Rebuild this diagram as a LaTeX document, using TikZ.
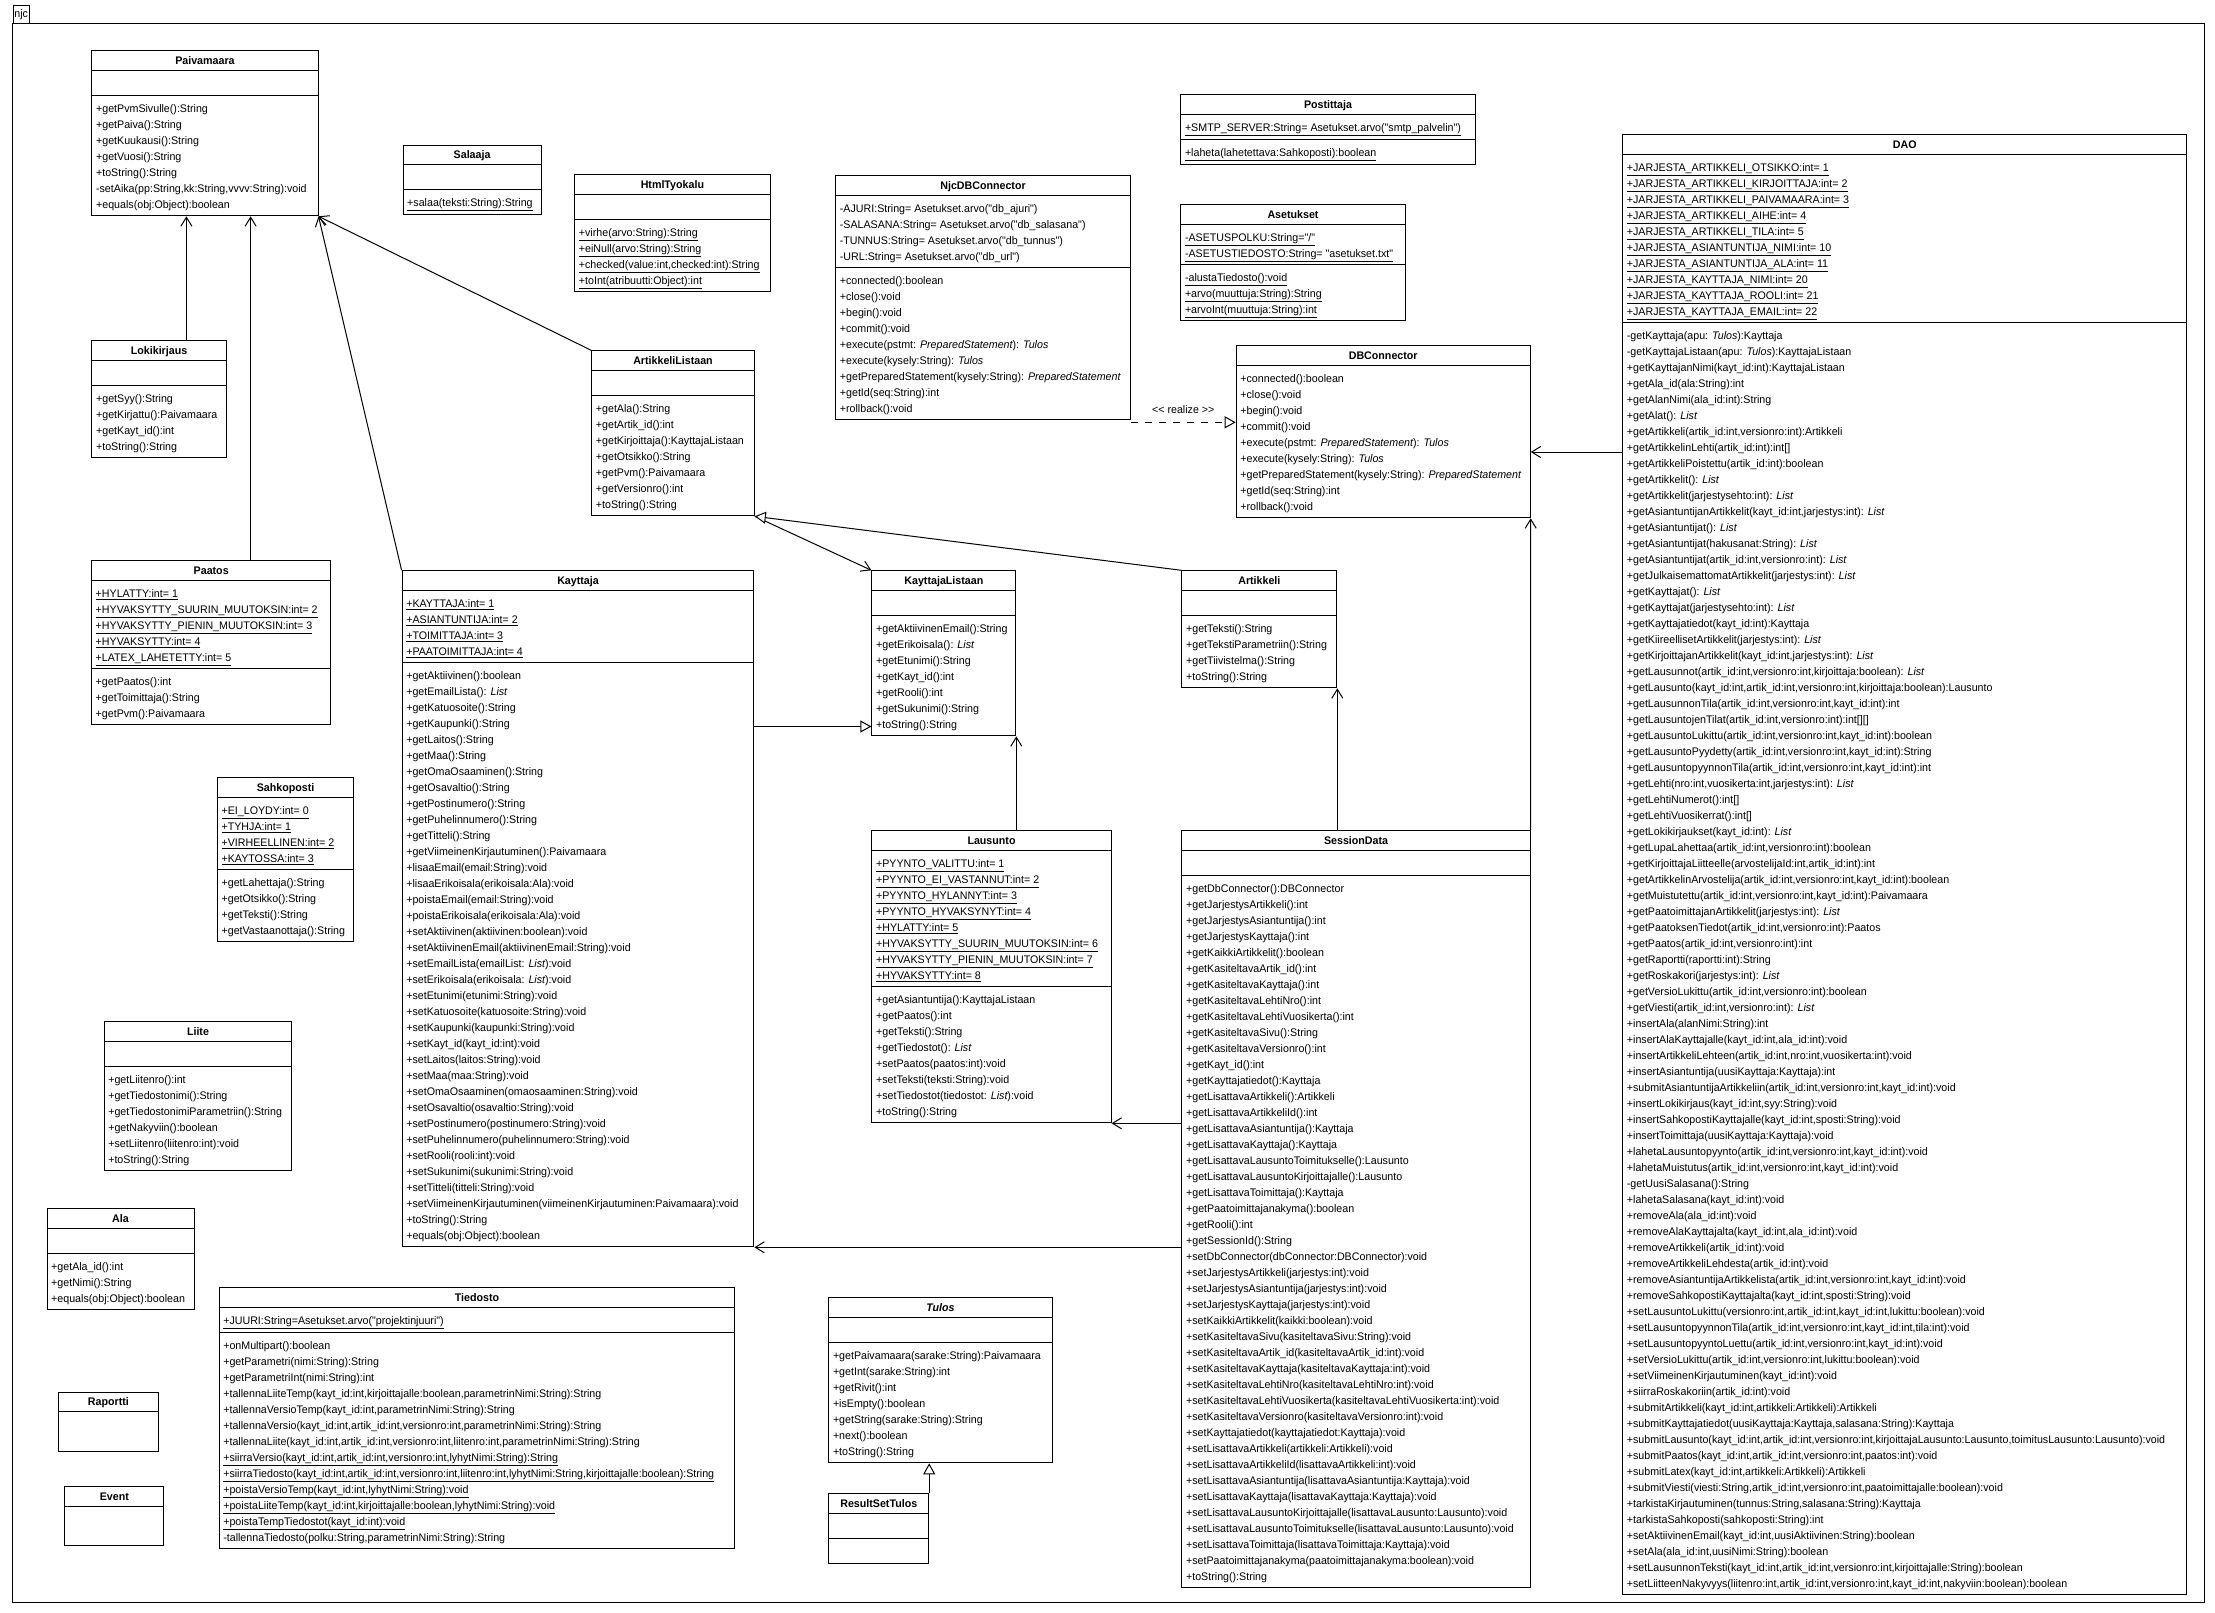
\documentclass[tikz,border=0pt]{standalone}
\usepackage{fontspec}
\newfontfamily\umlf{Liberation Sans}[FakeStretch=0.97]
\usetikzlibrary{arrows.meta}
\newcommand{\umlfont}{\umlf\fontsize{11}{13}\selectfont}
\newcommand{\umlI}[1]{{\itshape #1}}
\newcommand{\umlcls}[5]{\node[clsbox,minimum width=#4pt,minimum height=#5pt,anchor=north west] (#1) at (#2,#3) {};}
\newcommand{\umlttl}[2]{\node[ttl] (#1-t) at ([yshift=-14pt]#1.north) {#2};}
\newcommand{\umlsep}[2]{\draw[line width=1pt] ([yshift=-#2pt]#1.north west) -- ([yshift=-#2pt]#1.north east);}
\newcommand{\umlrows}[4]{\foreach \rr [count=\ii] in {#4} {\pgfmathsetmacro\yy{#3+17+16*(\ii-1)}\node[rowtxt] (#1-#2\ii) at ([xshift=4.5pt,yshift=-\yy pt]#1.north west) {\rr};}}
\tikzset{
  clsbox/.style={draw, line width=1pt, inner sep=0pt, fill=white},
  rowtxt/.style={anchor=base west, inner sep=0pt, font=\umlfont},
  ttl/.style={anchor=base, inner sep=0pt, font=\umlfont\bfseries},
  assoc/.style={line width=1pt, -{Straight Barb[length=9pt,width=11pt,line width=1pt]}},
  gen/.style={line width=1pt, -{Triangle[length=11pt,width=12pt,fill=white,line width=1pt]}},
  realz/.style={gen, dash pattern=on 7pt off 7pt}
}
\begin{document}
\begin{tikzpicture}[x=1pt,y=-1pt,font=\umlfont]
\useasboundingbox[fill=white] (0,0) rectangle (2215,1613);
% frame
\draw[line width=1pt] (12.5,24) rectangle (2204,1602.3);
\node[draw,line width=1pt,minimum width=16.5pt,minimum height=18pt,anchor=south west,inner sep=0pt] (tab) at (12.5,24) {njc};

% ---------- Paivamaara
\umlcls{pai}{91.4}{50.3}{226.1}{165}
\umlttl{pai}{Paivamaara}
\umlsep{pai}{20}\umlsep{pai}{45}
\umlrows{pai}{m}{45}{
 {+getPvmSivulle():String},
 {+getPaiva():String},
 {+getKuukausi():String},
 {+getVuosi():String},
 {+toString():String},
 {-setAika(pp:String,kk:String,vvvv:String):void},
 {+equals(obj:Object):boolean}}

% ---------- Salaaja
\umlcls{sal}{402.5}{145}{138.2}{69}
\umlttl{sal}{Salaaja}
\umlsep{sal}{20}\umlsep{sal}{45}
\umlrows{sal}{m}{45}{{\underline{+salaa(teksti:String):String}}}

% ---------- HtmlTyokalu
\umlcls{htm}{574.2}{174.3}{195.4}{117}
\umlttl{htm}{HtmlTyokalu}
\umlsep{htm}{20}\umlsep{htm}{45}
\umlrows{htm}{m}{45}{
 {\underline{+virhe(arvo:String):String}},
 {\underline{+eiNull(arvo:String):String}},
 {\underline{+checked(value:int,checked:int):String}},
 {\underline{+toInt(atribuutti:Object):int}}}

% ---------- NjcDBConnector
\umlcls{njc}{835.2}{175.3}{294.6}{244}
\umlttl{njc}{NjcDBConnector}
\umlsep{njc}{20}\umlsep{njc}{92}
\umlrows{njc}{a}{20}{
 {-AJURI:String= Asetukset.arvo("db\_ajuri")},
 {-SALASANA:String= Asetukset.arvo("db\_salasana")},
 {-TUNNUS:String= Asetukset.arvo("db\_tunnus")},
 {-URL:String= Asetukset.arvo("db\_url")}}
\umlrows{njc}{m}{92}{
 {+connected():boolean},
 {+close():void},
 {+begin():void},
 {+commit():void},
 {+execute(pstmt: \umlI{PreparedStatement}): \umlI{Tulos}},
 {+execute(kysely:String): \umlI{Tulos}},
 {+getPreparedStatement(kysely:String): \umlI{PreparedStatement}},
 {+getId(seq:String):int},
 {+rollback():void}}

% ---------- Postittaja
\umlcls{pos}{1180.3}{94.3}{294.4}{70}
\umlttl{pos}{Postittaja}
\umlsep{pos}{20}\umlsep{pos}{45}
\umlrows{pos}{a}{20}{{\underline{+SMTP\_SERVER:String= Asetukset.arvo("smtp\_palvelin")}}}
\umlrows{pos}{m}{45}{{\underline{+laheta(lahetettava:Sahkoposti):boolean}}}

% ---------- Asetukset
\umlcls{ase}{1180.3}{204.3}{224.4}{116}
\umlttl{ase}{Asetukset}
\umlsep{ase}{20}\umlsep{ase}{60}
\umlrows{ase}{a}{20}{
 {\underline{-ASETUSPOLKU:String="/"}},
 {\underline{-ASETUSTIEDOSTO:String= "asetukset.txt"}}}
\umlrows{ase}{m}{60}{
 {\underline{-alustaTiedosto():void}},
 {\underline{+arvo(muuttuja:String):String}},
 {\underline{+arvoInt(muuttuja:String):int}}}

% ---------- DBConnector
\umlcls{dbc}{1235.7}{345.3}{294}{172}
\umlttl{dbc}{DBConnector}
\umlsep{dbc}{20}
\umlrows{dbc}{m}{20}{
 {+connected():boolean},
 {+close():void},
 {+begin():void},
 {+commit():void},
 {+execute(pstmt: \umlI{PreparedStatement}): \umlI{Tulos}},
 {+execute(kysely:String): \umlI{Tulos}},
 {+getPreparedStatement(kysely:String): \umlI{PreparedStatement}},
 {+getId(seq:String):int},
 {+rollback():void}}

% ---------- DAO
\umlcls{dao}{1622.2}{134.3}{564.1}{1460}
\umlttl{dao}{DAO}
\umlsep{dao}{20}\umlsep{dao}{188}
\umlrows{dao}{a}{20}{
 {\underline{+JARJESTA\_ARTIKKELI\_OTSIKKO:int= 1}},
 {\underline{+JARJESTA\_ARTIKKELI\_KIRJOITTAJA:int= 2}},
 {\underline{+JARJESTA\_ARTIKKELI\_PAIVAMAARA:int= 3}},
 {\underline{+JARJESTA\_ARTIKKELI\_AIHE:int= 4}},
 {\underline{+JARJESTA\_ARTIKKELI\_TILA:int= 5}},
 {\underline{+JARJESTA\_ASIANTUNTIJA\_NIMI:int= 10}},
 {\underline{+JARJESTA\_ASIANTUNTIJA\_ALA:int= 11}},
 {\underline{+JARJESTA\_KAYTTAJA\_NIMI:int= 20}},
 {\underline{+JARJESTA\_KAYTTAJA\_ROOLI:int= 21}},
 {\underline{+JARJESTA\_KAYTTAJA\_EMAIL:int= 22}}}
\umlrows{dao}{m}{188}{
 {-getKayttaja(apu: \umlI{Tulos}):Kayttaja},
 {-getKayttajaListaan(apu: \umlI{Tulos}):KayttajaListaan},
 {+getKayttajanNimi(kayt\_id:int):KayttajaListaan},
 {+getAla\_id(ala:String):int},
 {+getAlanNimi(ala\_id:int):String},
 {+getAlat(): \umlI{List}},
 {+getArtikkeli(artik\_id:int,versionro:int):Artikkeli},
 {+getArtikkelinLehti(artik\_id:int):int[]},
 {+getArtikkeliPoistettu(artik\_id:int):boolean},
 {+getArtikkelit(): \umlI{List}},
 {+getArtikkelit(jarjestysehto:int): \umlI{List}},
 {+getAsiantuntijanArtikkelit(kayt\_id:int,jarjestys:int): \umlI{List}},
 {+getAsiantuntijat(): \umlI{List}},
 {+getAsiantuntijat(hakusanat:String): \umlI{List}},
 {+getAsiantuntijat(artik\_id:int,versionro:int): \umlI{List}},
 {+getJulkaisemattomatArtikkelit(jarjestys:int): \umlI{List}},
 {+getKayttajat(): \umlI{List}},
 {+getKayttajat(jarjestysehto:int): \umlI{List}},
 {+getKayttajatiedot(kayt\_id:int):Kayttaja},
 {+getKiireellisetArtikkelit(jarjestys:int): \umlI{List}},
 {+getKirjoittajanArtikkelit(kayt\_id:int,jarjestys:int): \umlI{List}},
 {+getLausunnot(artik\_id:int,versionro:int,kirjoittaja:boolean): \umlI{List}},
 {+getLausunto(kayt\_id:int,artik\_id:int,versionro:int,kirjoittaja:boolean):Lausunto},
 {+getLausunnonTila(artik\_id:int,versionro:int,kayt\_id:int):int},
 {+getLausuntojenTilat(artik\_id:int,versionro:int):int[][]},
 {+getLausuntoLukittu(artik\_id:int,versionro:int,kayt\_id:int):boolean},
 {+getLausuntoPyydetty(artik\_id:int,versionro:int,kayt\_id:int):String},
 {+getLausuntopyynnonTila(artik\_id:int,versionro:int,kayt\_id:int):int},
 {+getLehti(nro:int,vuosikerta:int,jarjestys:int): \umlI{List}},
 {+getLehtiNumerot():int[]},
 {+getLehtiVuosikerrat():int[]},
 {+getLokikirjaukset(kayt\_id:int): \umlI{List}},
 {+getLupaLahettaa(artik\_id:int,versionro:int):boolean},
 {+getKirjoittajaLiitteelle(arvostelijaId:int,artik\_id:int):int},
 {+getArtikkelinArvostelija(artik\_id:int,versionro:int,kayt\_id:int):boolean},
 {+getMuistutettu(artik\_id:int,versionro:int,kayt\_id:int):Paivamaara},
 {+getPaatoimittajanArtikkelit(jarjestys:int): \umlI{List}},
 {+getPaatoksenTiedot(artik\_id:int,versionro:int):Paatos},
 {+getPaatos(artik\_id:int,versionro:int):int},
 {+getRaportti(raportti:int):String},
 {+getRoskakori(jarjestys:int): \umlI{List}},
 {+getVersioLukittu(artik\_id:int,versionro:int):boolean},
 {+getViesti(artik\_id:int,versionro:int): \umlI{List}},
 {+insertAla(alanNimi:String):int},
 {+insertAlaKayttajalle(kayt\_id:int,ala\_id:int):void},
 {+insertArtikkeliLehteen(artik\_id:int,nro:int,vuosikerta:int):void},
 {+insertAsiantuntija(uusiKayttaja:Kayttaja):int},
 {+submitAsiantuntijaArtikkeliin(artik\_id:int,versionro:int,kayt\_id:int):void},
 {+insertLokikirjaus(kayt\_id:int,syy:String):void},
 {+insertSahkopostiKayttajalle(kayt\_id:int,sposti:String):void},
 {+insertToimittaja(uusiKayttaja:Kayttaja):void},
 {+lahetaLausuntopyynto(artik\_id:int,versionro:int,kayt\_id:int):void},
 {+lahetaMuistutus(artik\_id:int,versionro:int,kayt\_id:int):void},
 {-getUusiSalasana():String},
 {+lahetaSalasana(kayt\_id:int):void},
 {+removeAla(ala\_id:int):void},
 {+removeAlaKayttajalta(kayt\_id:int,ala\_id:int):void},
 {+removeArtikkeli(artik\_id:int):void},
 {+removeArtikkeliLehdesta(artik\_id:int):void},
 {+removeAsiantuntijaArtikkelista(artik\_id:int,versionro:int,kayt\_id:int):void},
 {+removeSahkopostiKayttajalta(kayt\_id:int,sposti:String):void},
 {+setLausuntoLukittu(versionro:int,artik\_id:int,kayt\_id:int,lukittu:boolean):void},
 {+setLausuntopyynnonTila(artik\_id:int,versionro:int,kayt\_id:int,tila:int):void},
 {+setLausuntopyyntoLuettu(artik\_id:int,versionro:int,kayt\_id:int):void},
 {+setVersioLukittu(artik\_id:int,versionro:int,lukittu:boolean):void},
 {+setViimeinenKirjautuminen(kayt\_id:int):void},
 {+siirraRoskakoriin(artik\_id:int):void},
 {+submitArtikkeli(kayt\_id:int,artikkeli:Artikkeli):Artikkeli},
 {+submitKayttajatiedot(uusiKayttaja:Kayttaja,salasana:String):Kayttaja},
 {+submitLausunto(kayt\_id:int,artik\_id:int,versionro:int,kirjoittajaLausunto:Lausunto,toimitusLausunto:Lausunto):void},
 {+submitPaatos(kayt\_id:int,artik\_id:int,versionro:int,paatos:int):void},
 {+submitLatex(kayt\_id:int,artikkeli:Artikkeli):Artikkeli},
 {+submitViesti(viesti:String,artik\_id:int,versionro:int,paatoimittajalle:boolean):void},
 {+tarkistaKirjautuminen(tunnus:String,salasana:String):Kayttaja},
 {+tarkistaSahkoposti(sahkoposti:String):int},
 {+setAktiivinenEmail(kayt\_id:int,uusiAktiivinen:String):boolean},
 {+setAla(ala\_id:int,uusiNimi:String):boolean},
 {+setLausunnonTeksti(kayt\_id:int,artik\_id:int,versionro:int,kirjoittajalle:String):boolean},
 {+setLiitteenNakyvyys(liitenro:int,artik\_id:int,versionro:int,kayt\_id:int,nakyviin:boolean):boolean}}

% ---------- Lokikirjaus
\umlcls{lok}{91.4}{340.3}{134.3}{117}
\umlttl{lok}{Lokikirjaus}
\umlsep{lok}{20}\umlsep{lok}{45}
\umlrows{lok}{m}{45}{
 {+getSyy():String},
 {+getKirjattu():Paivamaara},
 {+getKayt\_id():int},
 {+toString():String}}

% ---------- ArtikkeliListaan
\umlcls{all}{591.2}{350.3}{162.6}{165}
\umlttl{all}{ArtikkeliListaan}
\umlsep{all}{20}\umlsep{all}{45}
\umlrows{all}{m}{45}{
 {+getAla():String},
 {+getArtik\_id():int},
 {+getKirjoittaja():KayttajaListaan},
 {+getOtsikko():String},
 {+getPvm():Paivamaara},
 {+getVersionro():int},
 {+toString():String}}

% ---------- Paatos
\umlcls{paa}{91}{560.3}{239.4}{164}
\umlttl{paa}{Paatos}
\umlsep{paa}{20}\umlsep{paa}{108}
\umlrows{paa}{a}{20}{
 {\underline{+HYLATTY:int= 1}},
 {\underline{+HYVAKSYTTY\_SUURIN\_MUUTOKSIN:int= 2}},
 {\underline{+HYVAKSYTTY\_PIENIN\_MUUTOKSIN:int= 3}},
 {\underline{+HYVAKSYTTY:int= 4}},
 {\underline{+LATEX\_LAHETETTY:int= 5}}}
\umlrows{paa}{m}{108}{
 {+getPaatos():int},
 {+getToimittaja():String},
 {+getPvm():Paivamaara}}

% ---------- Kayttaja
\umlcls{kay}{401.6}{570.3}{351.8}{676}
\umlttl{kay}{Kayttaja}
\umlsep{kay}{20}\umlsep{kay}{92}
\umlrows{kay}{a}{20}{
 {\underline{+KAYTTAJA:int= 1}},
 {\underline{+ASIANTUNTIJA:int= 2}},
 {\underline{+TOIMITTAJA:int= 3}},
 {\underline{+PAATOIMITTAJA:int= 4}}}
\umlrows{kay}{m}{92}{
 {+getAktiivinen():boolean},
 {+getEmailLista(): \umlI{List}},
 {+getKatuosoite():String},
 {+getKaupunki():String},
 {+getLaitos():String},
 {+getMaa():String},
 {+getOmaOsaaminen():String},
 {+getOsavaltio():String},
 {+getPostinumero():String},
 {+getPuhelinnumero():String},
 {+getTitteli():String},
 {+getViimeinenKirjautuminen():Paivamaara},
 {+lisaaEmail(email:String):void},
 {+lisaaErikoisala(erikoisala:Ala):void},
 {+poistaEmail(email:String):void},
 {+poistaErikoisala(erikoisala:Ala):void},
 {+setAktiivinen(aktiivinen:boolean):void},
 {+setAktiivinenEmail(aktiivinenEmail:String):void},
 {+setEmailLista(emailList: \umlI{List}):void},
 {+setErikoisala(erikoisala: \umlI{List}):void},
 {+setEtunimi(etunimi:String):void},
 {+setKatuosoite(katuosoite:String):void},
 {+setKaupunki(kaupunki:String):void},
 {+setKayt\_id(kayt\_id:int):void},
 {+setLaitos(laitos:String):void},
 {+setMaa(maa:String):void},
 {+setOmaOsaaminen(omaosaaminen:String):void},
 {+setOsavaltio(osavaltio:String):void},
 {+setPostinumero(postinumero:String):void},
 {+setPuhelinnumero(puhelinnumero:String):void},
 {+setRooli(rooli:int):void},
 {+setSukunimi(sukunimi:String):void},
 {+setTitteli(titteli:String):void},
 {+setViimeinenKirjautuminen(viimeinenKirjautuminen:Paivamaara):void},
 {+toString():String},
 {+equals(obj:Object):boolean}}

% ---------- KayttajaListaan
\umlcls{kli}{871.4}{570.3}{143.9}{165}
\umlttl{kli}{KayttajaListaan}
\umlsep{kli}{20}\umlsep{kli}{45}
\umlrows{kli}{m}{45}{
 {+getAktiivinenEmail():String},
 {+getErikoisala(): \umlI{List}},
 {+getEtunimi():String},
 {+getKayt\_id():int},
 {+getRooli():int},
 {+getSukunimi():String},
 {+toString():String}}

% ---------- Artikkeli
\umlcls{art}{1181.4}{570.3}{154.9}{117}
\umlttl{art}{Artikkeli}
\umlsep{art}{20}\umlsep{art}{45}
\umlrows{art}{m}{45}{
 {+getTeksti():String},
 {+getTekstiParametriin():String},
 {+getTiivistelma():String},
 {+toString():String}}

% ---------- Sahkoposti
\umlcls{sah}{216.9}{777.3}{136.4}{164}
\umlttl{sah}{Sahkoposti}
\umlsep{sah}{20}\umlsep{sah}{92}
\umlrows{sah}{a}{20}{
 {\underline{+EI\_LOYDY:int= 0}},
 {\underline{+TYHJA:int= 1}},
 {\underline{+VIRHEELLINEN:int= 2}},
 {\underline{+KAYTOSSA:int= 3}}}
\umlrows{sah}{m}{92}{
 {+getLahettaja():String},
 {+getOtsikko():String},
 {+getTeksti():String},
 {+getVastaanottaja():String}}

% ---------- Lausunto
\umlcls{lau}{871.4}{830.3}{239.2}{292}
\umlttl{lau}{Lausunto}
\umlsep{lau}{20}\umlsep{lau}{156}
\umlrows{lau}{a}{20}{
 {\underline{+PYYNTO\_VALITTU:int= 1}},
 {\underline{+PYYNTO\_EI\_VASTANNUT:int= 2}},
 {\underline{+PYYNTO\_HYLANNYT:int= 3}},
 {\underline{+PYYNTO\_HYVAKSYNYT:int= 4}},
 {\underline{+HYLATTY:int= 5}},
 {\underline{+HYVAKSYTTY\_SUURIN\_MUUTOKSIN:int= 6}},
 {\underline{+HYVAKSYTTY\_PIENIN\_MUUTOKSIN:int= 7}},
 {\underline{+HYVAKSYTTY:int= 8}}}
\umlrows{lau}{m}{156}{
 {+getAsiantuntija():KayttajaListaan},
 {+getPaatos():int},
 {+getTeksti():String},
 {+getTiedostot(): \umlI{List}},
 {+setPaatos(paatos:int):void},
 {+setTeksti(teksti:String):void},
 {+setTiedostot(tiedostot: \umlI{List}):void},
 {+toString():String}}

% ---------- SessionData
\umlcls{ses}{1181.4}{830.3}{348.3}{757}
\umlttl{ses}{SessionData}
\umlsep{ses}{20}\umlsep{ses}{45}
\umlrows{ses}{m}{45}{
 {+getDbConnector():DBConnector},
 {+getJarjestysArtikkeli():int},
 {+getJarjestysAsiantuntija():int},
 {+getJarjestysKayttaja():int},
 {+getKaikkiArtikkelit():boolean},
 {+getKasiteltavaArtik\_id():int},
 {+getKasiteltavaKayttaja():int},
 {+getKasiteltavaLehtiNro():int},
 {+getKasiteltavaLehtiVuosikerta():int},
 {+getKasiteltavaSivu():String},
 {+getKasiteltavaVersionro():int},
 {+getKayt\_id():int},
 {+getKayttajatiedot():Kayttaja},
 {+getLisattavaArtikkeli():Artikkeli},
 {+getLisattavaArtikkeliId():int},
 {+getLisattavaAsiantuntija():Kayttaja},
 {+getLisattavaKayttaja():Kayttaja},
 {+getLisattavaLausuntoToimitukselle():Lausunto},
 {+getLisattavaLausuntoKirjoittajalle():Lausunto},
 {+getLisattavaToimittaja():Kayttaja},
 {+getPaatoimittajanakyma():boolean},
 {+getRooli():int},
 {+getSessionId():String},
 {+setDbConnector(dbConnector:DBConnector):void},
 {+setJarjestysArtikkeli(jarjestys:int):void},
 {+setJarjestysAsiantuntija(jarjestys:int):void},
 {+setJarjestysKayttaja(jarjestys:int):void},
 {+setKaikkiArtikkelit(kaikki:boolean):void},
 {+setKasiteltavaSivu(kasiteltavaSivu:String):void},
 {+setKasiteltavaArtik\_id(kasiteltavaArtik\_id:int):void},
 {+setKasiteltavaKayttaja(kasiteltavaKayttaja:int):void},
 {+setKasiteltavaLehtiNro(kasiteltavaLehtiNro:int):void},
 {+setKasiteltavaLehtiVuosikerta(kasiteltavaLehtiVuosikerta:int):void},
 {+setKasiteltavaVersionro(kasiteltavaVersionro:int):void},
 {+setKayttajatiedot(kayttajatiedot:Kayttaja):void},
 {+setLisattavaArtikkeli(artikkeli:Artikkeli):void},
 {+setLisattavaArtikkeliId(lisattavaArtikkeli:int):void},
 {+setLisattavaAsiantuntija(lisattavaAsiantuntija:Kayttaja):void},
 {+setLisattavaKayttaja(lisattavaKayttaja:Kayttaja):void},
 {+setLisattavaLausuntoKirjoittajalle(lisattavaLausunto:Lausunto):void},
 {+setLisattavaLausuntoToimitukselle(lisattavaLausunto:Lausunto):void},
 {+setLisattavaToimittaja(lisattavaToimittaja:Kayttaja):void},
 {+setPaatoimittajanakyma(paatoimittajanakyma:boolean):void},
 {+toString():String}}

% ---------- Liite
\umlcls{lii}{103.6}{1021.3}{187.8}{149}
\umlttl{lii}{Liite}
\umlsep{lii}{20}\umlsep{lii}{45}
\umlrows{lii}{m}{45}{
 {+getLiitenro():int},
 {+getTiedostonimi():String},
 {+getTiedostonimiParametriin():String},
 {+getNakyviin():boolean},
 {+setLiitenro(liitenro:int):void},
 {+toString():String}}

% ---------- Ala
\umlcls{ala}{46.5}{1208.3}{147}{101}
\umlttl{ala}{Ala}
\umlsep{ala}{20}\umlsep{ala}{45}
\umlrows{ala}{m}{45}{
 {+getAla\_id():int},
 {+getNimi():String},
 {+equals(obj:Object):boolean}}

% ---------- Tiedosto
\umlcls{tie}{218.6}{1287.3}{515.7}{261}
\umlttl{tie}{Tiedosto}
\umlsep{tie}{20}\umlsep{tie}{45}
\umlrows{tie}{a}{20}{{\underline{+JUURI:String=Asetukset.arvo("projektinjuuri")}}}
\umlrows{tie}{m}{45}{
 {+onMultipart():boolean},
 {+getParametri(nimi:String):String},
 {+getParametriInt(nimi:String):int},
 {+tallennaLiiteTemp(kayt\_id:int,kirjoittajalle:boolean,parametrinNimi:String):String},
 {+tallennaVersioTemp(kayt\_id:int,parametrinNimi:String):String},
 {+tallennaVersio(kayt\_id:int,artik\_id:int,versionro:int,parametrinNimi:String):String},
 {+tallennaLiite(kayt\_id:int,artik\_id:int,versionro:int,liitenro:int,parametrinNimi:String):String},
 {\underline{+siirraVersio(kayt\_id:int,artik\_id:int,versionro:int,lyhytNimi:String):String}},
 {\underline{+siirraTiedosto(kayt\_id:int,artik\_id:int,versionro:int,liitenro:int,lyhytNimi:String,kirjoittajalle:boolean):String}},
 {\underline{+poistaVersioTemp(kayt\_id:int,lyhytNimi:String):void}},
 {\underline{+poistaLiiteTemp(kayt\_id:int,kirjoittajalle:boolean,lyhytNimi:String):void}},
 {\underline{+poistaTempTiedostot(kayt\_id:int):void}},
 {-tallennaTiedosto(polku:String,parametrinNimi:String):String}}

% ---------- Tulos
\umlcls{tul}{828.3}{1297.3}{223.4}{165}
\umlttl{tul}{\itshape Tulos}
\umlsep{tul}{20}\umlsep{tul}{45}
\umlrows{tul}{m}{45}{
 {+getPaivamaara(sarake:String):Paivamaara},
 {+getInt(sarake:String):int},
 {+getRivit():int},
 {+isEmpty():boolean},
 {+getString(sarake:String):String},
 {+next():boolean},
 {+toString():String}}

% ---------- Raportti, Event, ResultSetTulos
\umlcls{rap}{58.3}{1391.7}{99.2}{59}
\umlttl{rap}{Raportti}
\umlsep{rap}{20}
\umlcls{eve}{64.2}{1486.3}{99.2}{59}
\umlttl{eve}{Event}
\umlsep{eve}{20}
\umlcls{rst}{828.3}{1493.3}{99.9}{70}
\umlttl{rst}{ResultSetTulos}
\umlsep{rst}{20}\umlsep{rst}{45}

% ---------- connectors
\draw[assoc] ([xshift=95pt]lok.north west) -- ([xshift=95pt]lok.north west |- pai.south);
\draw[assoc] ([xshift=159.6pt]paa.north west) -- ([xshift=159.6pt]paa.north west |- pai.south);
\draw[assoc] (kay.north west) -- (pai.south east);
\draw[assoc] (all.north west) -- (pai.south east);
\draw[realz] ([yshift=-2pt]njc.south east) -- ([yshift=-2pt]njc.south east -| dbc.west)
  node[midway, anchor=base, yshift=9pt, inner sep=0pt] (rlz) {<{}< realize >{}>};
\draw[assoc] ([yshift=-317.7pt]dao.north west) -- ([yshift=-317.7pt]dao.north west -| dbc.east);
\draw[assoc] (ses.north east) -- (dbc.south east);
\draw[assoc] (art.south east |- ses.north) -- (art.south east);
\draw[assoc] (ses.west |- lau.south east) -- (lau.south east);
\draw[assoc] (ses.west |- kay.south east) -- (kay.south east);
\draw[assoc] (kli.south east |- lau.north) -- (kli.south east);
\draw[gen] ([yshift=-156.2pt]kay.north east) -- ([yshift=-156.2pt]kay.north east -| kli.west);
\draw[assoc] (all.south east) -- (kli.north west);
\draw[gen] (art.north west) -- (all.south east);
\draw[gen] (rst.north east) -- (rst.north east |- tul.south);
\end{tikzpicture}
\end{document}
